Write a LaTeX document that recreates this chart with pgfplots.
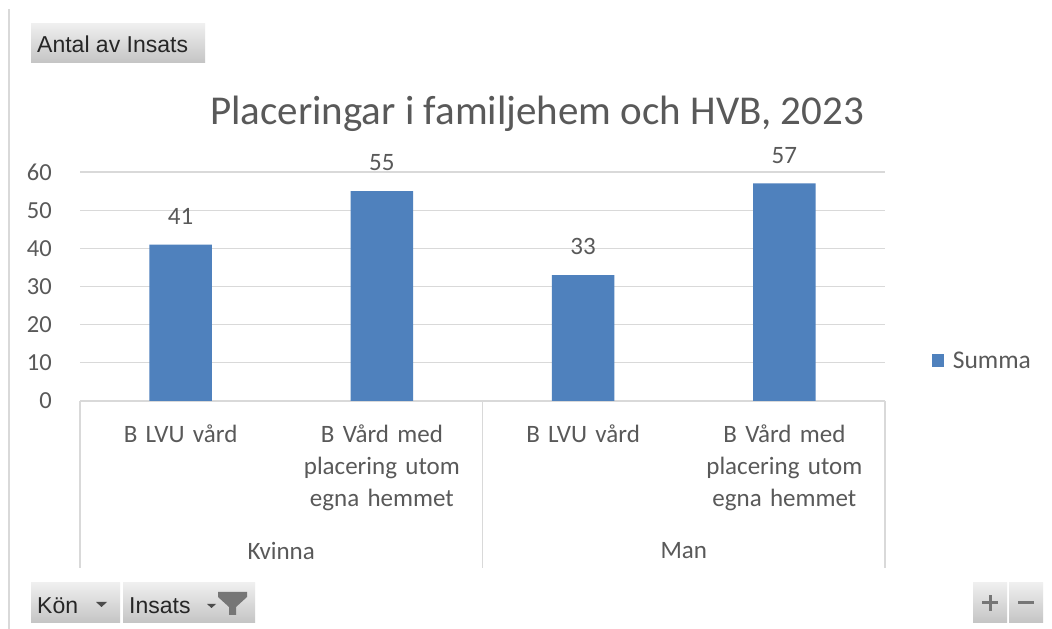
\documentclass[border=0pt]{standalone}
\usepackage{pgfplots}
\pgfplotsset{compat=1.18}
\usepackage{fontspec}
\setmainfont{Carlito}
\newfontfamily\btnfont{Liberation Sans}
\definecolor{barblue}{HTML}{4F81BD}
\definecolor{txtgray}{HTML}{595959}
\definecolor{gridgray}{HTML}{D9D9D9}
\definecolor{btntop}{HTML}{EFEFEF}
\definecolor{btnbot}{HTML}{C4C4C4}
\definecolor{icongray}{HTML}{767676}
\begin{document}
\begin{tikzpicture}
\useasboundingbox (0pt,0pt) rectangle (1052pt,629pt);
\fill[white] (0pt,0pt) rectangle (1052pt,629pt);
\begin{axis}[
  at={(80pt,228pt)}, anchor=south west,
  scale only axis, width=805pt, height=229pt,
  xmin=-0.5, xmax=3.5, ymin=0, ymax=60,
  ybar, bar width=0.31,
  clip=false,
  axis x line*=bottom, axis y line*=left,
  y axis line style={draw=none},
  x axis line style={draw=gridgray, line width=1.3pt},
  major tick length=0pt,
  ytick={0,10,...,60},
  ymajorgrids, grid style={draw=gridgray, line width=1.3pt},
  xtick={0,1,2,3},
  xticklabels={B LVU vård,{B Vård med\\placering utom\\egna hemmet},B LVU vård,{B Vård med\\placering utom\\egna hemmet}},
  xticklabel style={font=\fontsize{25}{32}\selectfont, text=txtgray, align=center, text width=190pt, anchor=north, inner sep=0pt, yshift=-24pt},
  yticklabel style={font=\fontsize{24.5}{28}\selectfont, text=txtgray, anchor=east, inner sep=0pt, xshift=-28pt},
  /pgf/number format/assume math mode=true,
  nodes near coords,
  every node near coord/.append style={font=\fontsize{25}{28}\selectfont, text=txtgray, inner sep=0pt, yshift=20pt},
  legend style={at={(1.058,0.175)}, anchor=west, draw=none, fill=none, inner sep=0pt, font=\fontsize{25.5}{28}\selectfont, text=txtgray, nodes={inner sep=0pt}},
  legend image code/.code={\fill[barblue] (0pt,-6.5pt) rectangle (12pt,6.5pt); \path (21pt,0pt);},
]
\addplot[fill=barblue, draw=none] coordinates {(0,41) (1,55) (2,33) (3,57)};
\addlegendentry{Summa}
\draw[gridgray, line width=1.3pt] (axis cs:-0.5,0) -- (axis cs:-0.5,-43.75);
\draw[gridgray, line width=1.3pt] (axis cs:1.5,0) -- (axis cs:1.5,-43.75);
\draw[gridgray, line width=1.3pt] (axis cs:3.5,0) -- (axis cs:3.5,-43.75);
\node[font=\fontsize{25}{28}\selectfont, text=txtgray] at (axis cs:0.5,-39.3) {Kvinna};
\node[font=\fontsize{25}{28}\selectfont, text=txtgray] at (axis cs:2.5,-39.3) {Man};
\end{axis}
\begin{scope}[x=1pt,y=1pt]
% title
\node[font=\fontsize{41}{45}\selectfont, text=txtgray] at (537,515) {Placeringar i familjehem och HVB, 2023};
% left frame line
\draw[gridgray, line width=1.5pt] (9,0) -- (9,620);
% Antal av Insats button
\shade[top color=btntop, bottom color=btnbot] (31,566) rectangle (205,605);
\node[font=\btnfont\fontsize{23}{26}\selectfont, anchor=base west, inner sep=0pt, text=black!85] at (37,576) {Antal av Insats};
% Kön button
\shade[top color=btntop, bottom color=btnbot] (31,6) rectangle (120,46);
\node[font=\btnfont\fontsize{23}{26}\selectfont, anchor=base west, inner sep=0pt, text=black!85] at (37,16) {Kön};
\fill[black!70] (96,27) -- (107,27) -- (101.5,22) -- cycle;
% Insats button
\shade[top color=btntop, bottom color=btnbot] (123,6) rectangle (255,46);
\node[font=\btnfont\fontsize{23}{26}\selectfont, anchor=base west, inner sep=0pt, text=black!85] at (129,16) {Insats};
\fill[black!70] (207,25) -- (216,25) -- (211.5,21) -- cycle;
\fill[icongray] (218,37) -- (247,37) -- (247,32) -- (236,22) -- (236,14) -- (229,14) -- (229,22) -- (218,32) -- cycle;
% plus/minus buttons
\shade[top color=btntop, bottom color=btnbot] (973,6) rectangle (1007,46);
\shade[top color=btntop, bottom color=btnbot] (1009,6) rectangle (1043,46);
\draw[icongray, line width=3pt] (982,26) -- (998,26) (990,18) -- (990,34);
\draw[icongray, line width=3pt] (1018,26) -- (1034,26);
\end{scope}
\end{tikzpicture}
\end{document}
